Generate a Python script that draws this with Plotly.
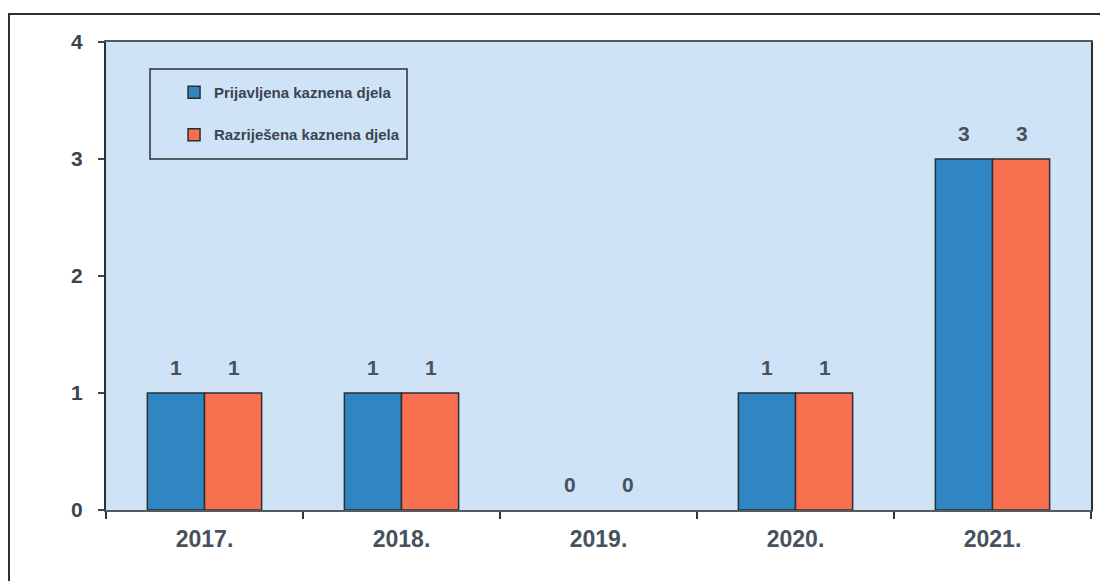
import plotly.graph_objects as go

years = ["2017.", "2018.", "2019.", "2020.", "2021."]
prijavljena = [1, 1, 0, 1, 3]
razrijesena = [1, 1, 0, 1, 3]
series_names = ["Prijavljena kaznena djela", "Razriješena kaznena djela"]
y_ticks = [0, 1, 2, 3, 4]

BLUE = "#2f86c3"
ORANGE = "#f8704f"
TEXT = "#46525e"
BG = "#cfe3f7"
LINE = "#2b2f33"
FONT = "Arial, Liberation Sans"

fig = go.Figure()
for vals, name, color, grp in ((prijavljena, series_names[0], BLUE, "a"),
                               (razrijesena, series_names[1], ORANGE, "b")):
    fig.add_trace(go.Bar(x=years, y=vals, name=name, legendgroup=grp,
                         marker=dict(color=color,
                                     line=dict(color=LINE, width=[1.5 if v else 0 for v in vals]))))

# value labels (category axis: annotation x given as category index)
for vals, shift in ((prijavljena, -29), (razrijesena, 29)):
    for idx, v in enumerate(vals):
        fig.add_annotation(x=idx, y=v, xref="x", yref="y", text=str(v), showarrow=False,
                           xshift=shift, yshift=12, yanchor="bottom",
                           font=dict(family=FONT, size=21, color=TEXT, weight="bold"))

# outer frame of the scanned chart
fig.add_shape(type="rect", xref="paper", yref="paper", x0=-0.0985, x1=1.06, y0=-0.3, y1=1.0598,
              line=dict(color=LINE, width=2), layer="below")
# legend frame
fig.add_shape(type="rect", xref="paper", yref="paper", x0=0.0447, x1=0.3056, y0=0.75, y1=0.9423,
              line=dict(color=LINE, width=1.5), layer="above")

fig.update_layout(
    width=1100, height=573,
    margin=dict(l=98, r=17, t=34, b=71),
    paper_bgcolor="white",
    plot_bgcolor=BG,
    barmode="group",
    bargap=0.42,
    bargroupgap=0,
    showlegend=True,
    legend=dict(x=0.0447, y=0.9276, xanchor="left", yanchor="top",
                bgcolor="rgba(0,0,0,0)", borderwidth=0,
                font=dict(family=FONT, size=15, color="#3a4550", weight="bold"),
                traceorder="grouped", tracegroupgap=20, indentation=24, itemwidth=30),
    xaxis=dict(type="category", range=[-0.5, len(years) - 0.5], showline=True, linecolor="#555a5f",
               linewidth=2, mirror=True,
               ticks="outside", tickson="boundaries", ticklen=7, tickcolor="#333", tickwidth=1.5,
               tickfont=dict(family=FONT, size=23, color=TEXT, weight="bold"),
               ticklabelstandoff=7, showgrid=False),
    yaxis=dict(range=[0, 4], tickvals=y_ticks, showline=True, linecolor=LINE, linewidth=2, mirror=True,
               ticks="outside", ticklen=6, tickcolor="#444", tickwidth=1.5,
               tickfont=dict(family=FONT, size=21, color="#3a4550", weight="bold"),
               ticklabelstandoff=11, showgrid=False, zeroline=False),
)

fig.write_html("out.html")
